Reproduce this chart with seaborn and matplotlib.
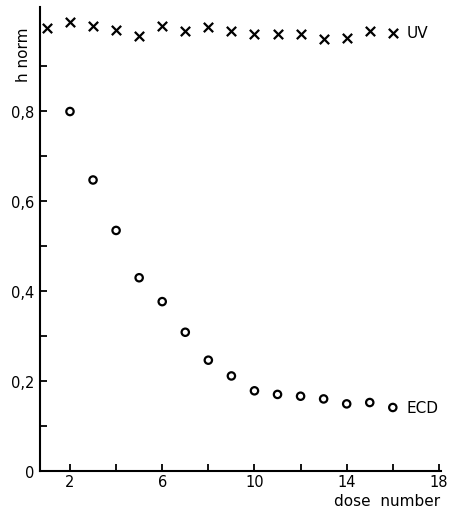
import numpy as np
import pandas as pd
import seaborn as sns
import matplotlib.pyplot as plt

# data
dose = list(range(1, 17))
uv = [0.984, 0.996, 0.987, 0.980, 0.966, 0.987, 0.976, 0.986,
      0.976, 0.969, 0.969, 0.971, 0.958, 0.962, 0.976, 0.973]
ecd_dose = list(range(2, 17))
ecd = [0.798, 0.646, 0.534, 0.429, 0.376, 0.308, 0.246, 0.211,
       0.178, 0.170, 0.166, 0.160, 0.149, 0.152, 0.141]

x_ticks = [2, 4, 6, 8, 10, 12, 14, 16, 18]
x_labels = ['2', '', '6', '', '10', '', '14', '', '18']
y_ticks = [0, 0.1, 0.2, 0.3, 0.4, 0.5, 0.6, 0.7, 0.8, 0.9]
y_labels = ['0', '', '0,2', '', '0,4', '', '0,6', '', '0,8', '']

df_uv = pd.DataFrame({'dose': dose, 'h': uv})
df_ecd = pd.DataFrame({'dose': ecd_dose, 'h': ecd})

sns.set_style('ticks')
plt.rcParams['font.family'] = ['DejaVu Sans']
plt.rcParams['text.color'] = 'black'

fig = plt.figure(figsize=(4.52, 5.10), dpi=100)
ax = fig.add_axes([40 / 452, 38 / 510, 401 / 452, 464 / 510])

sns.scatterplot(data=df_uv, x='dose', y='h', marker='x', s=45,
                color='black', linewidth=1.6, ax=ax, clip_on=False)
sns.scatterplot(data=df_ecd, x='dose', y='h', marker='o', s=28,
                facecolor='none', edgecolor='black', linewidth=1.6, ax=ax)

ax.set_xlim(0.70, 18.09)
ax.set_ylim(0, 1.03)
ax.set_xticks(x_ticks)
ax.set_xticklabels(x_labels)
ax.set_yticks(y_ticks)
ax.set_yticklabels(y_labels)
ax.tick_params(direction='in', length=5, width=1.3, labelsize=10.5,
               colors='black')
ax.tick_params(axis='x', pad=2)
ax.tick_params(axis='y', pad=4)
sns.despine(ax=ax)
for s in ['left', 'bottom']:
    ax.spines[s].set_linewidth(1.5)
    ax.spines[s].set_color('black')

ax.set_xlabel('')
ax.set_ylabel('')
ax.text(-0.04, 0.90, 'h norm', rotation=90, fontsize=11,
        transform=ax.transAxes, ha='center', va='center')
fig.text(440 / 452, 1 / 510, 'dose  number', fontsize=11,
         ha='right', va='bottom')
ax.text(16.6, 0.973, 'UV', fontsize=11, va='center')
ax.text(16.6, 0.141, 'ECD', fontsize=11, va='center')

fig.savefig('out.png', dpi=100)
